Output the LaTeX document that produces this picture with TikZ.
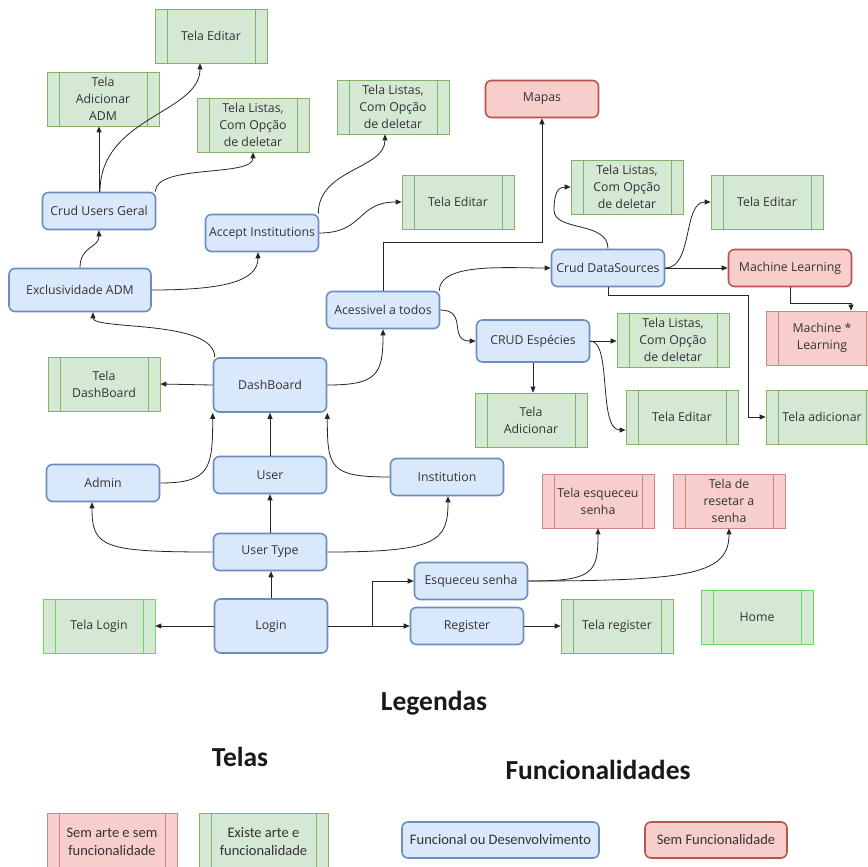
\documentclass[tikz,border=0pt]{standalone}
\usepackage{fontspec}
\setmainfont{Open Sans}
\newfontfamily\calfont{Carlito}
\usetikzlibrary{arrows.meta}
\definecolor{blueF}{HTML}{DAE8FC}
\definecolor{blueS}{HTML}{6C8EBF}
\definecolor{redF}{HTML}{F8CECC}
\definecolor{redS}{HTML}{B85450}
\definecolor{greenF}{HTML}{D5E8D4}
\definecolor{greenS}{HTML}{82B366}
\definecolor{limeS}{HTML}{66D966}
\definecolor{txt}{HTML}{333333}
\tikzset{
  base/.style={align=center, text=txt, inner sep=1pt, font=\fontsize{12.3}{17}\selectfont},
  func/.style={base, rounded corners=6pt, draw=blueS, fill=blueF, line width=1.6pt, minimum width=113pt, minimum height=37pt},
  funcR/.style={base, rounded corners=6pt, draw=redS, fill=redF, line width=1.6pt, minimum width=113pt, minimum height=37pt},
  tela/.style 2 args={base, draw=#2, fill=#1, line width=0.7pt, minimum width=112pt, minimum height=54pt,
    path picture={\draw[#2, line width=0.7pt]
      ([xshift=12pt]path picture bounding box.north west) -- ([xshift=12pt]path picture bounding box.south west)
      ([xshift=-12pt]path picture bounding box.north east) -- ([xshift=-12pt]path picture bounding box.south east);}},
  telaG/.style={tela={greenF}{greenS}},
  telaR/.style={tela={redF}{redS!70}},
  telaL/.style={tela={greenF}{limeS}},
  arr/.style={-{Triangle[length=6pt,width=5pt]}, line width=0.8pt, draw=black!85},
  legf/.style={font=\calfont\fontsize{14.5}{18}\selectfont},
  head/.style={text=black!90, font=\calfont\bfseries\fontsize{27.5}{30}\selectfont},
}
\begin{document}
\begin{tikzpicture}[x=1pt,y=-1pt]
\useasboundingbox (0,0) rectangle (867,867);
\fill[white] (0,0) rectangle (867,867);
% screens
\node[telaG] (editar1) at (211,36) {Tela Editar};
\node[telaG] (addadm) at (103,99) {Tela\\Adicionar\\ADM};
\node[telaG] (listas1) at (253,125) {Tela Listas,\\Com Opção\\de deletar};
\node[telaG] (listas2) at (393,107) {Tela Listas,\\Com Opção\\de deletar};
\node[telaG] (editar2) at (458,202) {Tela Editar};
\node[telaG] (listas3) at (627,187) {Tela Listas,\\Com Opção\\de deletar};
\node[telaG] (editar3) at (767,202) {Tela Editar};
\node[telaR] (ml2) at (822,338) {Machine *\\Learning};
\node[telaG] (listas4) at (673,340) {Tela Listas,\\Com Opção\\de deletar};
\node[telaG] (editar4) at (682,417) {Tela Editar};
\node[telaG] (adicionar) at (822,417) {Tela adicionar};
\node[telaG] (teladd) at (531,420) {Tela\\Adicionar};
\node[telaG] (teladash) at (104,384) {Tela\\DashBoard};
\node[telaL] (telalogin) at (99,626) {Tela Login};
\node[telaG] (telareg) at (617,626) {Tela register};
\node[telaL] (home) at (757,617) {Home};
\node[telaR] (telaesq) at (598,501) {Tela esqueceu\\senha};
\node[telaR] (telareset) at (729,501) {Tela de\\resetar a\\senha};
% functions
\node[funcR] (mapas) at (542,99) {Mapas};
\node[func] (crudusers) at (99,211) {Crud Users Geral};
\node[func] (accept) at (262,233) {Accept Institutions};
\node[func, minimum width=142pt, minimum height=43pt] (excl) at (80,290) {Exclusividade ADM};
\node[func] (acess) at (383,310) {Acessivel a todos};
\node[func] (crudds) at (608,268) {Crud DataSources};
\node[funcR, minimum width=123pt] (ml) at (790,268) {Machine Learning};
\node[func, minimum height=42pt] (crudesp) at (533,341) {CRUD Espécies};
\node[func, minimum height=54pt] (dash) at (270,385) {DashBoard};
\node[func] (admin) at (103,483) {Admin};
\node[func] (user) at (270,475) {User};
\node[func] (inst) at (447,477) {Institution};
\node[func] (utype) at (270,552) {User Type};
\node[func, minimum height=54pt] (login) at (271,626) {Login};
\node[func] (esq) at (471,581) {Esqueceu senha};
\node[func] (reg) at (467,626) {Register};
% connectors
\draw[arr] (crudusers.north) -- (crudusers.north |- addadm.south);
\draw[arr] ([xshift=1pt]crudusers.north) .. controls +(0,-75) and +(0,50) .. ([xshift=-11pt]editar1.south);
\draw[arr] ([xshift=-1pt]crudusers.north east) .. controls +(0,-28) and +(0,25) .. (listas1.south);
\draw[arr] (excl.north) .. controls +(0,-22) and +(0,18) .. (crudusers.south);
\draw[arr] (excl.east) .. controls +(75,0) and +(0,28) .. ([xshift=-4pt]accept.south);
\draw[arr] ([xshift=-1pt]accept.north east) .. controls +(0,-45) and +(0,35) .. ([xshift=-8pt]listas2.south);
\draw[arr] (accept.east) .. controls +(45,0) and +(-45,0) .. (editar2.west);
\draw[arr] (acess.north) -- (acess.north |- 0,242) -| (mapas.south);
\draw[arr] ([xshift=-1pt]acess.north east) .. controls +(0,-28) and +(-45,0) .. (crudds.west);
\draw[arr] (acess.east) .. controls +(28,0) and +(-28,0) .. (crudesp.west);
\draw[arr] (crudds.north) .. controls +(0,-28) and +(0,22) .. (554,210) .. controls +(0,-18) and +(-12,0) .. (listas3.west);
\draw[arr] (crudds.east) .. controls +(28,0) and +(-28,0) .. (editar3.west);
\draw[arr] (crudds.east) -- (ml.west);
\draw[arr] (crudds.south) |- (748,295) |- (adicionar.west);
\draw[arr] (ml.south) |- (851,303) -- ([xshift=29pt]ml2.north);
\draw[arr] (crudesp.east) -- (crudesp.east -| listas4.west);
\draw[arr] (crudesp.east) .. controls +(22,0) and +(-28,0) .. ([yshift=-13pt]editar4.west);
\draw[arr] (crudesp.south) -- (crudesp.south |- teladd.north);
\draw[arr] ([xshift=2pt]dash.north west) .. controls +(0,-38) and +(0,18) .. ([xshift=13pt]excl.south);
\draw[arr] (dash.west) -- (teladash.east);
\draw[arr] (dash.east) .. controls +(50,0) and +(0,45) .. (acess.south);
\draw[arr] (admin.east) .. controls +(50,0) and +(0,55) .. (dash.south west);
\draw[arr] (user.north) -- (dash.south);
\draw[arr] (inst.west) .. controls +(-60,0) and +(0,55) .. (dash.south east);
\draw[arr] (utype.west) .. controls +(-110,0) and +(0,45) .. ([xshift=-11pt]admin.south);
\draw[arr] (utype.north) -- (user.south);
\draw[arr] (utype.east) .. controls +(110,0) and +(0,45) .. ([xshift=1pt]inst.south);
\draw[arr] (login.north) -- (login.north |- utype.south);
\draw[arr] (login.west) -- (telalogin.east);
\coordinate (j) at (372,626);
\draw[arr] (login.east) -- (reg.west);
\draw[arr] (j) |- (esq.west);
\draw[arr] (reg.east) -- (telareg.west);
\draw[arr] (esq.east) .. controls +(65,0) and +(0,45) .. (telaesq.south);
\draw[arr] (esq.east) .. controls +(165,0) and +(0,45) .. (telareset.south);
% legend
\node[head] (leg) at (434,703) {Legendas};
\node[head] (telas) at (240,757) {Telas};
\node[head] (funcs) at (598,770) {Funcionalidades};
\node[telaR, legf, minimum width=130pt, minimum height=57pt] (l1) at (112,841.5) {Sem arte e sem\\funcionalidade};
\node[telaG, legf, minimum width=129pt, minimum height=57pt] (l2) at (263.5,841.5) {Existe arte e\\funcionalidade};
\node[func, legf, minimum width=197pt, minimum height=36pt] (l3) at (500.5,840) {Funcional ou Desenvolvimento};
\node[funcR, legf, minimum width=142pt, minimum height=36pt] (l4) at (716,840) {Sem Funcionalidade};
\end{tikzpicture}
\end{document}
